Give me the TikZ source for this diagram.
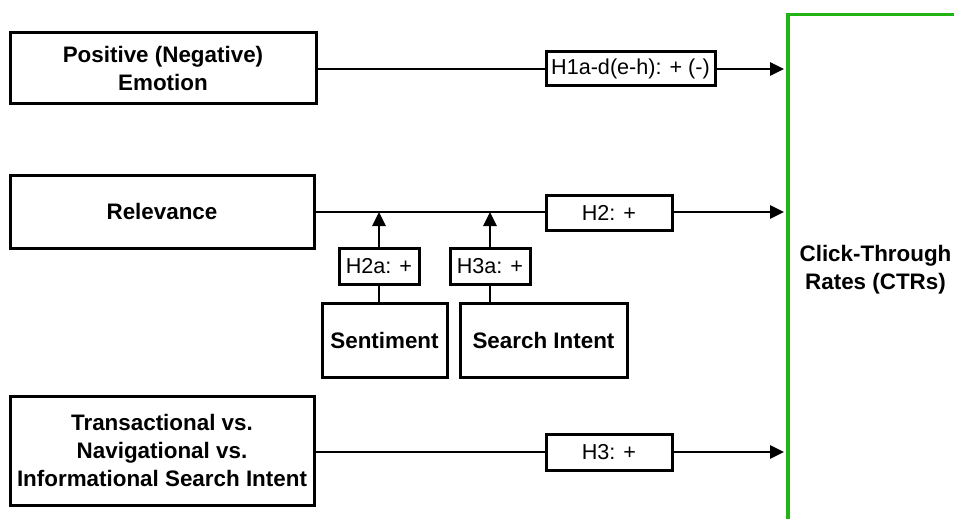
\documentclass[tikz,border=0pt]{standalone}
\usepackage{fontspec}
\setmainfont{Liberation Sans}
\usetikzlibrary{arrows.meta}
\definecolor{ctrgreen}{RGB}{34,180,20}
\begin{document}
\begin{tikzpicture}[x=1pt,y=-1pt,
  varbox/.style={draw=black,line width=3pt,align=center,font=\fontsize{22.4}{28}\selectfont\bfseries,inner sep=0pt},
  hypbox/.style={draw=black,line width=3pt,align=center,font=\fontsize{21.6}{26}\selectfont,inner sep=0pt},
  link/.style={line width=2.8pt},
  arr/.style={line width=2.8pt,-{Triangle[length=14pt,width=13pt]}}]
\useasboundingbox (0,0) rectangle (954,519);
\fill[white] (0,0) rectangle (954,519);
\begin{scope}
\clip (0,0) rectangle (954,519);
\node[draw=ctrgreen,line width=3.5pt,minimum width=200pt,minimum height=540pt,inner sep=0pt,anchor=north west] (ctr) at (786,13) {};
\end{scope}
\node[font=\fontsize{22.4}{28}\selectfont\bfseries,align=center] (ctrtext) at (875.5,270) {Click-Through\\Rates (CTRs)};
\node[varbox,minimum width=306pt,minimum height=71pt] (emo) at (163,68.5) {Positive (Negative)\\Emotion};
\node[varbox,minimum width=304pt,minimum height=73pt] (rel) at (162,211.5) {Relevance};
\node[varbox,minimum width=304pt,minimum height=109pt] (tni) at (162,450.5) {Transactional vs.\\Navigational vs.\\Informational Search Intent};
\node[varbox,minimum width=125pt,minimum height=74pt] (sent) at (384.5,340) {Sentiment};
\node[varbox,minimum width=167pt,minimum height=74pt] (si) at (543.5,340) {Search Intent};
\node[hypbox,minimum width=169pt,minimum height=34pt] (h1) at (630.5,69) {H1a-d(e-h): + (-)};
\node[hypbox,minimum width=126pt,minimum height=35pt] (h2) at (609,212.5) {H2: +};
\node[hypbox,minimum width=126pt,minimum height=36pt] (h3) at (609,452) {H3: +};
\node[hypbox,minimum width=80pt,minimum height=36pt] (h2a) at (379,266) {H2a: +};
\node[hypbox,minimum width=80pt,minimum height=36pt] (h3a) at (490,266) {H3a: +};
\coordinate (t1) at (784,69);
\coordinate (t2) at (784,212);
\coordinate (t3) at (784,452);
\draw[link] (emo.east |- t1) -- (h1.west);
\draw[arr] (h1.east) -- (t1);
\draw[link] (rel.east |- t2) -- (h2.west |- t2);
\draw[arr] (h2.east |- t2) -- (t2);
\draw[link] (tni.east |- t3) -- (h3.west |- t3);
\draw[arr] (h3.east |- t3) -- (t3);
\draw[arr] (h2a.north) -- (h2a.north |- t2);
\draw[arr] (h3a.north) -- (h3a.north |- t2);
\draw[link] (h2a.south) -- (h2a.south |- sent.north);
\draw[link] (h3a.south) -- (h3a.south |- si.north);
\end{tikzpicture}
\end{document}
